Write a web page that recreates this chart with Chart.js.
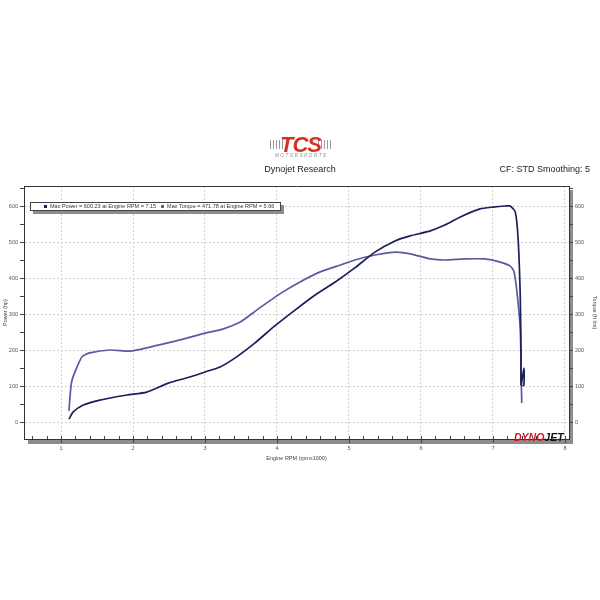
<!DOCTYPE html>
<html><head><meta charset="utf-8">
<script src="https://cdn.jsdelivr.net/npm/chart.js@4/dist/chart.umd.min.js"></script>
<style>
html,body{margin:0;padding:0;background:#fff;width:600px;height:600px;overflow:hidden;font-family:"Liberation Sans",Arial,sans-serif}
#wrap{position:relative;width:600px;height:600px}
canvas{position:absolute;left:0;top:0}
.abs{position:absolute;white-space:nowrap}
</style></head><body>
<div id="wrap">
<canvas id="c" width="600" height="600"></canvas>
<div class="abs" style="left:268px;top:135px;width:66px;height:26px">
  <div class="abs" style="left:2px;top:5px;width:13px;height:9px;background:repeating-linear-gradient(90deg,#9a9a9a 0 1px,transparent 1px 3px)"></div>
  <div class="abs" style="left:50px;top:5px;width:13px;height:9px;background:repeating-linear-gradient(90deg,#9a9a9a 0 1px,transparent 1px 3px)"></div>
  <div class="abs" style="left:12px;top:-3px;font:italic bold 22px 'Liberation Sans';color:#d8321f;letter-spacing:-1px">TCS</div>
  <div class="abs" style="left:7px;top:18px;font:italic 4.5px 'Liberation Sans';color:#8c8c8c;letter-spacing:1.6px">MOTORSPORTS</div>
</div>
<div class="abs" style="left:200px;top:164px;width:200px;text-align:center;font-size:9px;color:#222">Dynojet Research</div>
<div class="abs" style="right:10px;top:164px;font-size:9px;color:#222">CF: STD Smoothing: 5</div>
<div class="abs" style="left:30px;top:202px;width:249px;height:7px;border:1px solid #444;background:#fff;box-shadow:3px 3px 0 #8c8c8c;font-size:5.5px;line-height:7px;color:#333;padding-left:0">
  <span style="display:inline-block;width:3px;height:3px;background:#1e1e5a;margin-left:13px;margin-right:3px"></span><span id="lp"></span><span style="display:inline-block;width:3px;height:3px;background:#5a5aa2;margin-left:5px;margin-right:3px"></span><span id="lt"></span>
</div>
<div class="abs" style="left:514px;top:431px;font:italic bold 10.5px 'Liberation Sans';letter-spacing:0px"><span style="color:#d3171f">DYNO</span><span style="color:#111">JET</span></div>
</div>
<script>
// ---- data ----
const powerRpm = [1.11,1.17,1.31,1.54,1.92,2.19,2.49,2.79,3.00,3.21,3.44,3.69,3.97,4.25,4.53,4.81,5.08,5.36,5.64,5.85,6.13,6.33,6.54,6.82,7.00,7.17,7.24,7.31,7.35,7.38,7.39,7.39,7.43,7.43,7.41];
const powerHp  = [8,28,47,61,75,83,108,125,139,153,181,219,267,311,353,389,428,472,503,517,531,547,569,592,597,600,600,583,506,339,172,103,150,103,100];
const torqueRpm = [1.11,1.15,1.29,1.40,1.68,1.96,2.19,2.47,2.65,3.00,3.21,3.49,3.76,4.04,4.32,4.60,4.88,5.08,5.36,5.66,5.85,6.13,6.33,6.61,6.89,7.10,7.24,7.29,7.33,7.38,7.39,7.40];
const torqueLbft = [31,114,181,192,200,197,206,219,228,247,256,278,317,356,389,417,436,450,464,472,467,453,450,453,453,444,433,419,367,256,139,53];
const xMajorTicks = [1,2,3,4,5,6,7,8];
const yMajorTicks = [0,100,200,300,400,500,600];
const legendPower = 'Max Power = 600.23 at Engine RPM = 7.15';
const legendTorque = 'Max Torque = 471.78 at Engine RPM = 5.66';

document.getElementById('lp').textContent = legendPower;
document.getElementById('lt').textContent = legendTorque;

const xTicks = []; for (let i = 3; i <= 40; i++) xTicks.push(i / 5);
const yTicks = []; for (let i = 0; i <= 13; i++) yTicks.push(i * 50);
const isMaj = (arr, v) => arr.some(m => Math.abs(m - v) < 1e-6);

const FONT = "'Liberation Sans', Arial, sans-serif";
const frame = {
  id: 'frame',
  beforeDraw(chart) {
    const {ctx, chartArea: a} = chart;
    ctx.save();
    ctx.fillStyle = '#8c8c8c';
    ctx.fillRect(a.left + 4, a.top + 4, a.right - a.left, a.bottom - a.top + 1);
    ctx.fillStyle = '#fff';
    ctx.fillRect(a.left, a.top, a.right - a.left, a.bottom - a.top);
    ctx.restore();
  },
  afterDraw(chart) {
    const {ctx, chartArea: a} = chart;
    const xs = chart.scales.x;
    ctx.save();
    ctx.strokeStyle = '#333';
    ctx.lineWidth = 1;
    ctx.beginPath();
    ctx.moveTo(a.left, a.top + 0.5);
    ctx.lineTo(a.right, a.top + 0.5);
    ctx.stroke();
    // x-axis tick marks pointing into the plot, majors also below the axis
    ctx.strokeStyle = '#444';
    ctx.beginPath();
    xs.ticks.forEach(t => {
      const px = Math.round(xs.getPixelForValue(t.value)) + 0.5;
      ctx.moveTo(px, a.bottom - 3);
      ctx.lineTo(px, isMaj(xMajorTicks, t.value) ? a.bottom + 4 : a.bottom);
    });
    ctx.stroke();
    ctx.restore();
  }
};

const yCommon = (pos, title) => ({
  type: 'linear', position: pos, min: -47.2, max: 655.6,
  afterBuildTicks: s => { s.ticks = yTicks.map(v => ({value: v})); },
  afterFit: s => { s.width = pos === 'left' ? 24 : 31; },
  ticks: {autoSkip: false, padding: 2, color: '#555', font: {size: 5.5, family: FONT},
          callback: v => isMaj(yMajorTicks, v) ? String(v) : ''},
  grid: {drawOnChartArea: pos === 'left',
         color: c => (c.tick && isMaj(yMajorTicks, c.tick.value)) ? '#d2d2d2' : 'rgba(0,0,0,0)',
         tickColor: '#444', tickLength: 4},
  border: {color: '#333', width: 1, dash: [2, 2]},
  title: {display: true, text: title, color: '#444', font: {size: 5.5, family: FONT}, padding: {top: 2, bottom: 0}}
});

new Chart(document.getElementById('c'), {
  type: 'line',
  data: {
    datasets: [
      {label: 'Power', data: powerRpm.map((r, i) => ({x: r, y: powerHp[i]})), yAxisID: 'y',
       borderColor: '#1e1e5c', borderWidth: 1.7, pointRadius: 0, tension: 0.2, fill: false},
      {label: 'Torque', data: torqueRpm.map((r, i) => ({x: r, y: torqueLbft[i]})), yAxisID: 'y2',
       borderColor: '#5a5aa2', borderWidth: 1.7, pointRadius: 0, tension: 0.2, fill: false}
    ]
  },
  options: {
    responsive: false, animation: false,
    layout: {padding: {top: 186, bottom: 138, left: 0, right: 0}},
    plugins: {legend: {display: false}, tooltip: {enabled: false}},
    scales: {
      x: {
        type: 'linear', min: 0.486, max: 8.056,
        afterBuildTicks: s => { s.ticks = xTicks.map(v => ({value: v})); },
        afterFit: s => { s.height = 23; },
        ticks: {autoSkip: false, maxRotation: 0, padding: 6, color: '#555', font: {size: 5.5, family: FONT},
                callback: v => isMaj(xMajorTicks, v) ? String(Math.round(v)) : ''},
        grid: {drawTicks: false,
               color: c => (c.tick && isMaj(xMajorTicks, c.tick.value)) ? '#d2d2d2' : 'rgba(0,0,0,0)'},
        border: {color: '#333', width: 1, dash: [2, 2]},
        title: {display: true, text: 'Engine RPM (rpmx1000)', color: '#444', font: {size: 5.5, family: FONT}, padding: {top: 3, bottom: 0}}
      },
      y: yCommon('left', 'Power (hp)'),
      y2: yCommon('right', 'Torque (ft lbs)')
    }
  },
  plugins: [frame]
});
</script>
</body></html>
